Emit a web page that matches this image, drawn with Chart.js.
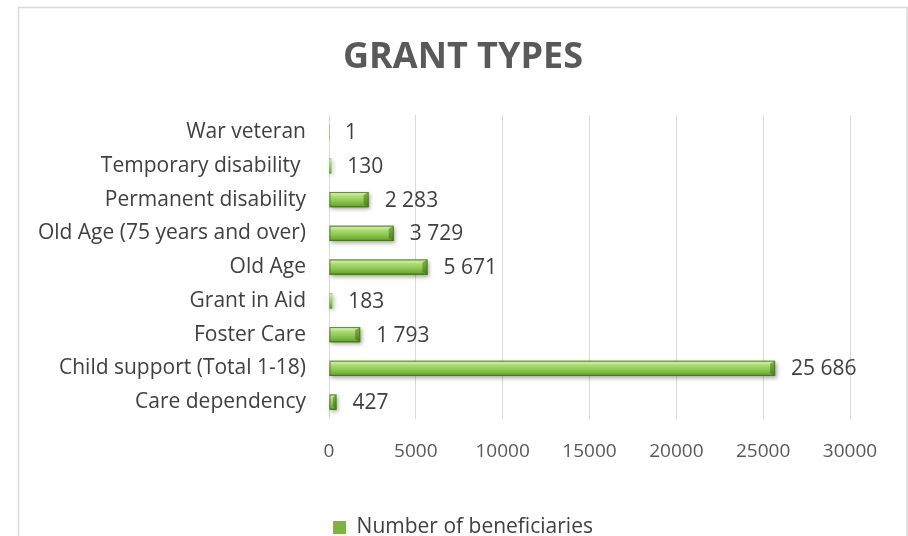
<!DOCTYPE html>
<html>
<head>
<meta charset="utf-8">
<script src="https://cdn.jsdelivr.net/npm/chart.js@4"></script>
<style>
  html, body { margin: 0; padding: 0; background: #ffffff; overflow: hidden; }
  #wrap { width: 908px; height: 536px; }
</style>
</head>
<body>
<div id="wrap"><canvas id="grants" width="908" height="536"></canvas></div>
<script>
// Grant categories, listed bottom to top
const categories = [
  'Care dependency',
  'Child support (Total 1-18)',
  'Foster Care',
  'Grant in Aid',
  'Old Age',
  'Old Age (75 years and over)',
  'Permanent disability',
  'Temporary disability ',
  'War veteran'
];
// Number of beneficiaries per grant
const beneficiaries = [427, 25686, 1793, 183, 5671, 3729, 2283, 130, 1];
const seriesName = 'Number of beneficiaries';
const xTickValues = [0, 5000, 10000, 15000, 20000, 25000, 30000];

const FONT = '"Open Sans", "DejaVu Sans", sans-serif';
const TEXT = '#404040';

function spaced(v) {
  return String(v).replace(/\B(?=(\d{3})+(?!\d))/g, ' ');
}

// Light grey frame around the chart
const framePlugin = {
  id: 'frame',
  beforeDraw(chart) {
    const ctx = chart.ctx;
    ctx.save();
    ctx.strokeStyle = '#d9d9d9';
    ctx.lineWidth = 1.5;
    ctx.beginPath();
    ctx.moveTo(18.5, 540);
    ctx.lineTo(18.5, 7.5);
    ctx.lineTo(907, 7.5);
    ctx.lineTo(907, 540);
    ctx.stroke();
    ctx.restore();
  }
};

// Centre the title and legend on the framed box rather than the padded layout
const centerPlugin = {
  id: 'centerBlocks',
  afterLayout(chart) {
    [chart.titleBlock, chart.legend].forEach((b) => {
      if (!b) return;
      b.left = 18;
      b.right = 908;
      b.width = 890;
    });
  }
};

// Bevelled green bars with a soft shadow, drawn over each bar element
const bevelPlugin = {
  id: 'bevel',
  afterDatasetsDraw(chart) {
    const ctx = chart.ctx;
    const meta = chart.getDatasetMeta(0);
    meta.data.forEach((bar) => {
      const p = bar.getProps(['x', 'y', 'base', 'height'], true);
      const left = Math.min(p.base, p.x);
      const right = Math.max(p.base, p.x);
      const w = right - left;
      if (w < 0.5) return;
      const top = p.y - p.height / 2;
      const bottom = p.y + p.height / 2;
      const h = bottom - top;

      ctx.save();
      ctx.shadowColor = 'rgba(0,0,0,0.35)';
      ctx.shadowBlur = 4;
      ctx.shadowOffsetX = 1.5;
      ctx.shadowOffsetY = 2;
      const g = ctx.createLinearGradient(0, top, 0, bottom);
      g.addColorStop(0, '#a3d46a');
      g.addColorStop(0.12, '#cdeca3');
      g.addColorStop(0.3, '#aadb70');
      g.addColorStop(0.6, '#8cc652');
      g.addColorStop(0.88, '#6eaa38');
      g.addColorStop(1, '#527f26');
      ctx.fillStyle = g;
      ctx.fillRect(left, top, w, h);
      ctx.restore();

      if (w < 3) return;
      // bevelled right end
      const cap = Math.min(5, w / 2);
      ctx.save();
      const gc = ctx.createLinearGradient(0, top, 0, bottom);
      gc.addColorStop(0, '#82b54a');
      gc.addColorStop(1, '#4c7c22');
      ctx.fillStyle = gc;
      ctx.beginPath();
      ctx.moveTo(right - cap, top + Math.min(3, h / 4));
      ctx.lineTo(right, top);
      ctx.lineTo(right, bottom);
      ctx.lineTo(right - cap, bottom - Math.min(3, h / 4));
      ctx.closePath();
      ctx.fill();
      ctx.strokeStyle = 'rgba(70,110,30,0.7)';
      ctx.lineWidth = 1;
      ctx.strokeRect(left + 0.5, top + 0.5, w - 1, h - 1);
      ctx.restore();
    });
  }
};

// Value labels to the right of each bar
const valueLabelPlugin = {
  id: 'valueLabels',
  afterDatasetsDraw(chart) {
    const ctx = chart.ctx;
    const meta = chart.getDatasetMeta(0);
    ctx.save();
    ctx.font = '21px ' + FONT;
    ctx.fillStyle = TEXT;
    ctx.textAlign = 'left';
    ctx.textBaseline = 'middle';
    meta.data.forEach((bar, i) => {
      const p = bar.getProps(['x', 'y'], true);
      ctx.fillText(spaced(beneficiaries[i]), p.x + 16, p.y + 1);
    });
    ctx.restore();
  }
};

new Chart(document.getElementById('grants'), {
  type: 'bar',
  data: {
    labels: categories,
    datasets: [{
      label: seriesName,
      data: beneficiaries,
      backgroundColor: '#7cb342',
      borderColor: '#4f7f24',
      borderWidth: 0,
      barPercentage: 0.9,
      categoryPercentage: 0.5
    }]
  },
  options: {
    indexAxis: 'y',
    responsive: false,
    animation: false,
    events: [],
    layout: { padding: { left: 0, right: 58, top: 0, bottom: -12 } },
    scales: {
      x: {
        min: 0,
        max: 30000,
        afterBuildTicks(scale) {
          scale.ticks = xTickValues.map(v => ({ value: v }));
        },
        grid: { color: '#d9d9d9', lineWidth: 1, drawTicks: false },
        border: { display: false },
        ticks: {
          padding: 21,
          color: '#595959',
          font: { family: FONT, size: 19 },
          callback: (v) => String(v)
        },
        afterFit(scale) { scale.height = 96; }
      },
      y: {
        reverse: true,
        grid: { display: false, drawTicks: false },
        border: { display: false },
        ticks: {
          padding: 23,
          color: TEXT,
          font: { family: FONT, size: 21 },
          autoSkip: false
        },
        afterFit(scale) { scale.width = 329; }
      }
    },
    plugins: {
      title: {
        display: true,
        text: 'GRANT TYPES',
        color: '#595959',
        font: { family: FONT, size: 36, weight: 'bold' },
        padding: { top: 36, bottom: 36 }
      },
      legend: {
        position: 'bottom',
        labels: {
          color: TEXT,
          font: { family: FONT, size: 21 },
          boxWidth: 13,
          boxHeight: 13,
          padding: 2
        }
      },
      tooltip: { enabled: false }
    }
  },
  plugins: [framePlugin, centerPlugin, bevelPlugin, valueLabelPlugin]
});
</script>
</body>
</html>
